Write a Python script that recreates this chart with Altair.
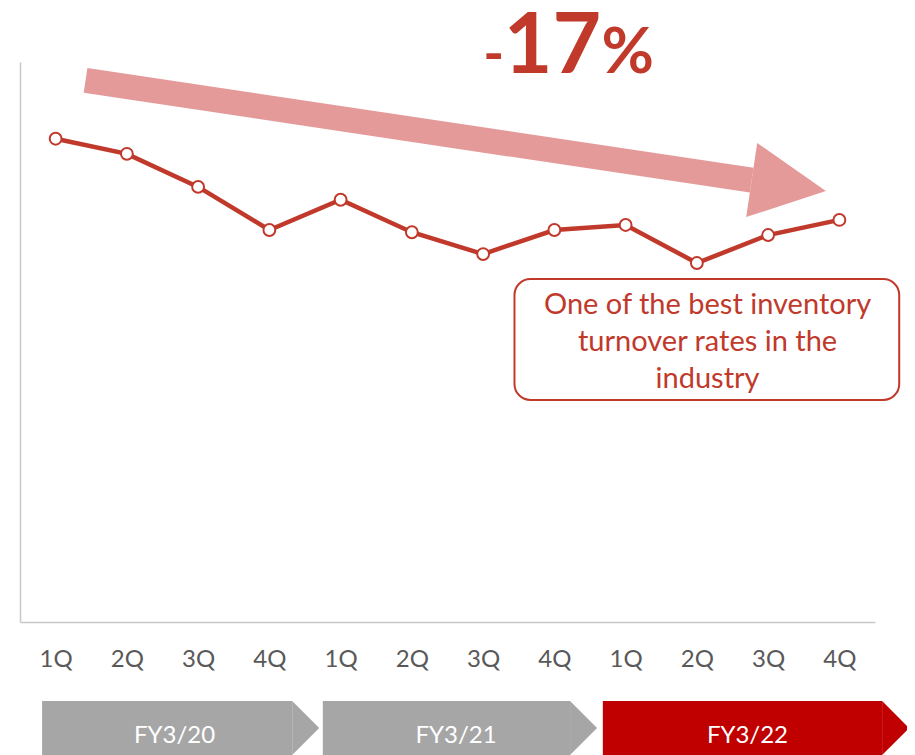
import altair as alt
import pandas as pd

# ---- data ----
quarters = ["1Q", "2Q", "3Q", "4Q", "1Q", "2Q", "3Q", "4Q", "1Q", "2Q", "3Q", "4Q"]
values = [86.3, 83.6, 77.7, 70.0, 75.4, 69.6, 65.7, 70.0, 70.9, 64.1, 69.1, 71.8]

fiscal_years = ["FY3/20", "FY3/21", "FY3/22"]
fy_start = [-0.19, 3.75, 7.68]
fy_end = [3.32, 7.22, 11.6]
fy_label_x = [1.67, 5.62, 9.71]
fy_colors = ["#A6A6A6", "#A6A6A6", "#C00000"]
band_top = -14.1
band_bottom = -23.75
band_mid = -18.93
band_text_y = -20.4

arrow_x = [0.42, 9.77]
arrow_y = [96.7, 78.9]
arrow_head_x = [10.29]
arrow_head_y = [77.95]
arrow_angle = 8.4

change_parts = ["-", "17", "%"]
change_x = [6.0, 6.29, 7.66]
change_sizes = [56, 84, 64]
change_y = 98.0

note_lines = ["One of the best inventory", "turnover rates in the", "industry"]
note_box = {"x": 6.44, "x2": 11.84, "y": 61.25, "y2": 39.64}
note_first_line = {"x": 9.15, "y": 56.6}

RED = "#C0392B"
FONT = "Lato"

idx = list(range(len(quarters)))
df = pd.DataFrame({"idx": idx, "value": values, "quarter": quarters})
label_array = "[" + ",".join("'" + q + "'" for q in quarters) + "]"

xscale = alt.Scale(domain=[-0.5, 11.5], nice=False, zero=False)
yscale = alt.Scale(domain=[0, 100], nice=False, zero=False)

x_axis = alt.Axis(
    values=idx, labelExpr=label_array + "[datum.value]", title=None, ticks=False,
    grid=False, domainColor="#C8C8C8", domainWidth=1.5, labelFont=FONT,
    labelFontSize=24, labelColor="#595959", labelPadding=25, labelFlush=False,
)
y_axis = alt.Axis(title=None, labels=False, ticks=False, grid=False,
                  domainColor="#C8C8C8", domainWidth=1.5)

base = alt.Chart(df)

line = base.mark_line(color=RED, strokeWidth=4.5).encode(
    x=alt.X("idx:Q", scale=xscale, axis=x_axis),
    y=alt.Y("value:Q", scale=yscale, axis=y_axis),
)
points = base.mark_point(filled=False, fill="white", color=RED, size=140,
                         strokeWidth=2, opacity=1).encode(
    x=alt.X("idx:Q", scale=xscale), y=alt.Y("value:Q", scale=yscale)
)

# arrow
arrow_df = pd.DataFrame({"x": [arrow_x[0]], "x2": [arrow_x[1]],
                         "y": [arrow_y[0]], "y2": [arrow_y[1]]})
arrow_shaft = alt.Chart(arrow_df).mark_rule(
    color="#E59A9A", strokeWidth=25, strokeCap="butt"
).encode(x=alt.X("x:Q", scale=xscale), x2="x2:Q",
         y=alt.Y("y:Q", scale=yscale), y2="y2:Q")
head_df = pd.DataFrame({"x": arrow_head_x, "y": arrow_head_y})
arrow_head = alt.Chart(head_df).mark_point(
    shape="M-1,-1 L1,0 L-1,1 Z", size=5625, angle=arrow_angle, filled=True,
    color="#E59A9A", opacity=1, strokeWidth=0
).encode(x=alt.X("x:Q", scale=xscale), y=alt.Y("y:Q", scale=yscale))

# -17%
change_layers = []
for part, px, fs in zip(change_parts, change_x, change_sizes):
    d = pd.DataFrame({"x": [px], "y": [change_y], "t": [part]})
    change_layers.append(
        alt.Chart(d).mark_text(font=FONT, fontWeight="bold", fontSize=fs, color=RED,
                               align="left", baseline="alphabetic").encode(
            x=alt.X("x:Q", scale=xscale), y=alt.Y("y:Q", scale=yscale), text="t:N")
    )

# annotation box
box_df = pd.DataFrame([note_box])
box = alt.Chart(box_df).mark_rect(fill="white", stroke=RED, strokeWidth=2,
                                  cornerRadius=16).encode(
    x=alt.X("x:Q", scale=xscale), x2="x2:Q", y=alt.Y("y:Q", scale=yscale), y2="y2:Q")
note_df = pd.DataFrame([note_first_line])
note = alt.Chart(note_df).mark_text(text=note_lines, font=FONT, fontSize=29,
                                    color=RED, lineHeight=37, align="center",
                                    baseline="middle").encode(
    x=alt.X("x:Q", scale=xscale), y=alt.Y("y:Q", scale=yscale))

# fiscal-year chevrons
fy_df = pd.DataFrame({"fy": fiscal_years, "start": fy_start, "end": fy_end,
                      "lx": fy_label_x, "color": fy_colors,
                      "top": [band_top] * 3, "bottom": [band_bottom] * 3,
                      "mid": [band_mid] * 3, "ty": [band_text_y] * 3})
fy_body = alt.Chart(fy_df).mark_rect().encode(
    x=alt.X("start:Q", scale=xscale), x2="end:Q",
    y=alt.Y("top:Q", scale=yscale), y2="bottom:Q",
    color=alt.Color("color:N", scale=None))
fy_tip = alt.Chart(fy_df).mark_point(
    shape="M0,-1 L1,0 L0,1 Z", size=2916, filled=True, opacity=1, strokeWidth=0
).encode(x=alt.X("end:Q", scale=xscale), y=alt.Y("mid:Q", scale=yscale),
         color=alt.Color("color:N", scale=None))
fy_text = alt.Chart(fy_df).mark_text(font=FONT, fontSize=24, color="white",
                                     baseline="middle", align="center").encode(
    x=alt.X("lx:Q", scale=xscale), y=alt.Y("ty:Q", scale=yscale), text="fy:N")

chart = alt.layer(
    arrow_shaft, arrow_head, line, points, *change_layers, box, note,
    fy_body, fy_tip, fy_text
).properties(
    width=855, height=560,
    autosize=alt.AutoSizeParams(type="none"),
    padding={"left": 12, "top": 54, "right": 32, "bottom": 133},
    background="white",
).configure_view(stroke=None, strokeWidth=0)

chart.save("out.html", embed_options={"renderer": "svg", "actions": False})
